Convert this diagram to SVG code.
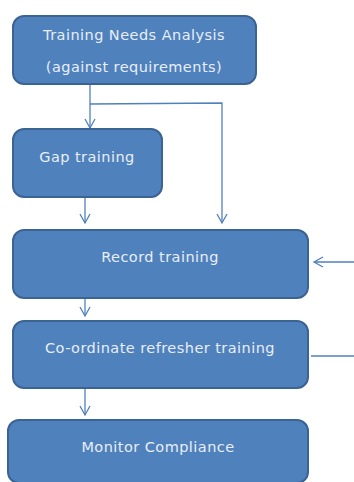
<svg xmlns="http://www.w3.org/2000/svg" width="354" height="482" viewBox="0 0 354 482">
<defs>
<style>
.box{fill:#4f81bd;stroke:#3b6393;stroke-width:2}
.t{font-family:"DejaVu Sans",Verdana,sans-serif;font-size:14.5px;fill:#e8eef7;text-anchor:middle;letter-spacing:0.45px}
.c{fill:none;stroke:#4f81bd;stroke-width:1.3}
</style>
<marker id="ah" markerWidth="12" markerHeight="12" refX="10" refY="6" orient="auto" markerUnits="userSpaceOnUse">
<path d="M1,1 L10,6 L1,11" fill="none" stroke="#4f81bd" stroke-width="1.3"/>
</marker>
</defs>
<rect width="354" height="482" fill="#fff"/>
<g id="connectors">
<path class="c" d="M90,84 V128" marker-end="url(#ah)"/>
<path class="c" d="M90,104 L222,103 V223" marker-end="url(#ah)"/>
<path class="c" d="M85,197 V223" marker-end="url(#ah)"/>
<path class="c" d="M354,262 H314" marker-end="url(#ah)"/>
<path class="c" d="M85,298 V316" marker-end="url(#ah)"/>
<path class="c" d="M311,356 H354"/>
<path class="c" d="M85,388 V415" marker-end="url(#ah)"/>
</g>
<g id="tna">
<rect class="box" x="13" y="16" width="243" height="68" rx="11"/>
<text class="t" x="134" y="40">Training Needs Analysis</text>
<text class="t" x="134" y="72">(against requirements)</text>
</g>
<g id="gap">
<rect class="box" x="13" y="129" width="149" height="68" rx="11"/>
<text class="t" x="87" y="162">Gap training</text>
</g>
<g id="record">
<rect class="box" x="13" y="230" width="295" height="68" rx="11"/>
<text class="t" x="160" y="262">Record training</text>
</g>
<g id="coord">
<rect class="box" x="13" y="321" width="295" height="67" rx="11"/>
<text class="t" x="160" y="353">Co-ordinate refresher training</text>
</g>
<g id="monitor">
<rect class="box" x="8" y="420" width="300" height="63" rx="11"/>
<text class="t" x="158" y="452">Monitor Compliance</text>
</g>
</svg>
